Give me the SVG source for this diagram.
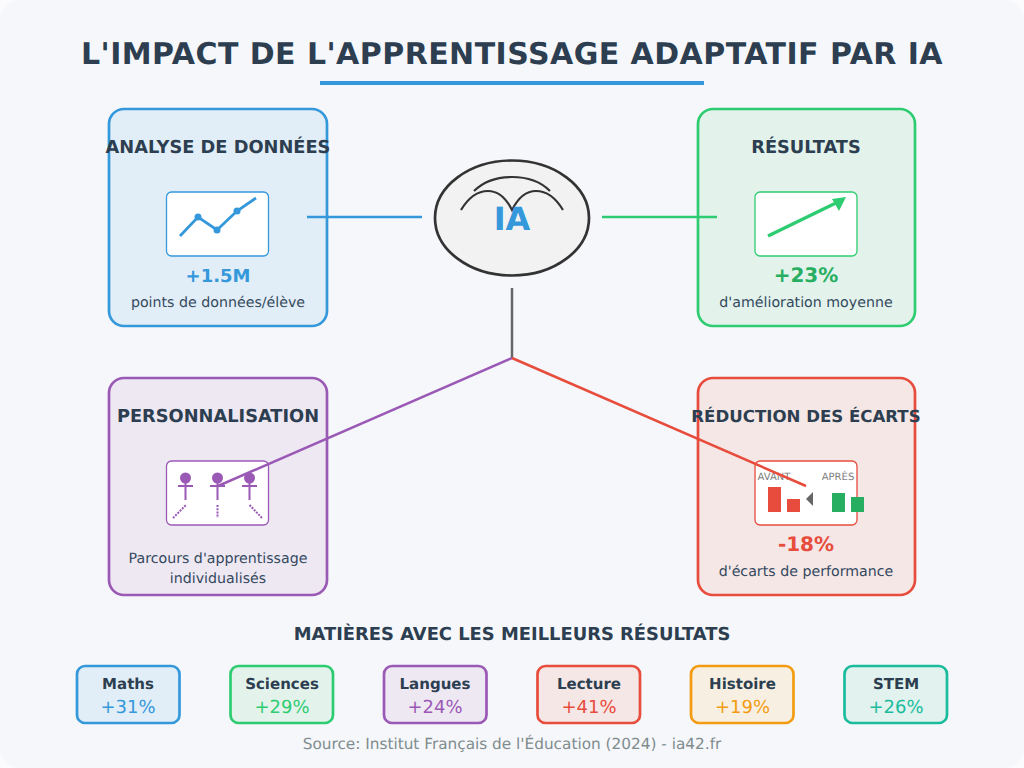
<svg xmlns="http://www.w3.org/2000/svg" width="1024" height="768" viewBox="0 0 1024 768">
<style>
text{font-family:"DejaVu Sans",sans-serif;text-anchor:middle;text-rendering:geometricPrecision}
.h{font-size:17.8px;font-weight:700;fill:#2c3e50}
.d{font-size:14.2px;fill:#34495e}
.v{font-size:20px;font-weight:700}
.card{stroke-width:2.7}
.ic{fill:#fff;stroke-width:1.3}
.sn{font-size:15px;font-weight:700;fill:#2c3e50}
.sv{font-size:18px}
.sb{stroke-width:2.7}
.lab{font-size:10px;fill:#7f7f7f}
.p{fill:none;stroke:#9b59b6;stroke-width:2}
.dot{fill:none;stroke:#9b59b6;stroke-width:2;stroke-dasharray:2 1.2}
</style>
<rect width="1024" height="768" fill="#fbfbfd"/>
<rect width="1024" height="768" rx="20" fill="#f5f7fb"/>
<g id="title">
<text x="512" y="64" style="font-size:30px;font-weight:700;fill:#2c3e50;letter-spacing:.45px">L'IMPACT DE L'APPRENTISSAGE ADAPTATIF PAR IA</text>
<rect x="320" y="81" width="384" height="4" fill="#3498db"/>
</g>
<g id="node-analyse">
<rect class="card" x="109" y="109" width="218" height="217" rx="15" fill="#e2eef7" stroke="#3498db"/>
<text class="h" x="218" y="153">ANALYSE DE DONNÉES</text>
<rect class="ic" x="166.500" y="192" width="102" height="64" rx="5" stroke="#3498db"/>
<polyline points="180,236 198,217 217,230 237,211 256,198" fill="none" stroke="#3498db" stroke-width="2.800"/>
<circle cx="198" cy="217" r="3.500" fill="#3498db"/><circle cx="217" cy="230" r="3.500" fill="#3498db"/><circle cx="237" cy="211" r="3.500" fill="#3498db"/>
<text class="v" x="218" y="282" fill="#3498db" style="font-size:18px">+1.5M</text>
<text class="d" x="218" y="307">points de données/élève</text>
</g>
<g id="node-resultats">
<rect class="card" x="698" y="109" width="217" height="217" rx="15" fill="#e3f3ec" stroke="#2ecc71"/>
<text class="h" x="806" y="153">RÉSULTATS</text>
<rect class="ic" x="755" y="192" width="102" height="64" rx="5" stroke="#2ecc71"/>
<line x1="768" y1="236" x2="840" y2="201" stroke="#2ecc71" stroke-width="3.500"/>
<polygon points="846,197 832,199 839,211" fill="#2ecc71"/>
<text class="v" x="806" y="282" fill="#27ae60">+23%</text>
<text class="d" x="806" y="307">d'amélioration moyenne</text>
</g>
<g id="node-personnalisation">
<rect class="card" x="109" y="378" width="218" height="217" rx="15" fill="#eee8f3" stroke="#9b59b6"/>
<text class="h" x="218" y="422">PERSONNALISATION</text>
<rect class="ic" x="166.500" y="461" width="102" height="64" rx="5" stroke="#9b59b6"/>
<circle cx="185.500" cy="478" r="5.500" fill="#9b59b6"/><path class="p" d="M185.500 483V500M178 486H193"/>
<circle cx="217.500" cy="478" r="5.500" fill="#9b59b6"/><path class="p" d="M217.500 483V500M210 486H225"/>
<circle cx="249.500" cy="478" r="5.500" fill="#9b59b6"/><path class="p" d="M249.500 483V500M242 486H257"/>
<path class="dot" d="M173 518L186 505M217.500 505V518M249.500 505L262 518"/>
<text class="d" x="218" y="563">Parcours d'apprentissage</text>
<text class="d" x="218" y="583">individualisés</text>
</g>
<g id="node-reduction">
<rect class="card" x="698" y="378" width="217" height="217" rx="15" fill="#f5e7e6" stroke="#e74c3c"/>
<text class="h" x="806" y="422" style="font-size:16.6px">RÉDUCTION DES ÉCARTS</text>
<rect class="ic" x="755" y="461" width="102" height="64" rx="5" stroke="#e74c3c"/>
<text class="lab" x="774" y="480">AVANT</text>
<text class="lab" x="838" y="480">APRÈS</text>
<rect x="768" y="487" width="13" height="25" fill="#e74c3c"/>
<rect x="787" y="499" width="13" height="13" fill="#e74c3c"/>
<polygon points="806,499 813,492 813,506" fill="#666"/>
<rect x="832" y="493" width="13" height="19" fill="#27ae60"/>
<rect x="851" y="497" width="13" height="15" fill="#27ae60"/>
<text class="v" x="806" y="551" fill="#e74c3c">-18%</text>
<text class="d" x="806" y="576">d'écarts de performance</text>
</g>
<g id="node-ia">
<ellipse cx="512" cy="218" rx="77" ry="57.500" fill="#f2f2f2" stroke="#333" stroke-width="2.700"/>
<path d="M461 210C470 195 480 191 488 191C498 191 506 198 512 210C518 198 526 191 536 191C544 191 554 195 563 210M474 191C484 181 498 177 512 177C526 177 540 181 550 191" fill="none" stroke="#333" stroke-width="2.200"/>
<text x="512" y="230" fill="#3498db" style="font-size:32px;font-weight:700">IA</text>
</g>
<g id="connectors" fill="none" stroke-width="2.500">
<line x1="307" y1="217" x2="422" y2="217" stroke="#3498db"/>
<line x1="602" y1="217" x2="717" y2="217" stroke="#2ecc71"/>
<line x1="512" y1="288" x2="512" y2="358" stroke="#666"/>
<line x1="512" y1="358" x2="218" y2="486" stroke="#9b59b6"/>
<line x1="512" y1="358" x2="806" y2="486" stroke="#e74c3c"/>
</g>
<g id="subjects-title"><text x="512" y="640" style="font-size:17.9px;font-weight:700;fill:#2c3e50">MATIÈRES AVEC LES MEILLEURS RÉSULTATS</text></g>
<g id="subject-maths"><rect class="sb" x="77" y="666" width="102.500" height="57" rx="8" fill="#e2eef7" stroke="#3498db"/><text class="sn" x="128" y="689">Maths</text><text class="sv" x="128" y="713" fill="#3498db">+31%</text></g>
<g id="subject-sciences"><rect class="sb" x="230.500" y="666" width="102.500" height="57" rx="8" fill="#e3f3ec" stroke="#2ecc71"/><text class="sn" x="282" y="689">Sciences</text><text class="sv" x="282" y="713" fill="#2ecc71">+29%</text></g>
<g id="subject-langues"><rect class="sb" x="384" y="666" width="102.500" height="57" rx="8" fill="#eee8f3" stroke="#9b59b6"/><text class="sn" x="435" y="689">Langues</text><text class="sv" x="435" y="713" fill="#9b59b6">+24%</text></g>
<g id="subject-lecture"><rect class="sb" x="537.500" y="666" width="102.500" height="57" rx="8" fill="#f5e7e6" stroke="#e74c3c"/><text class="sn" x="589" y="689">Lecture</text><text class="sv" x="589" y="713" fill="#e74c3c">+41%</text></g>
<g id="subject-histoire"><rect class="sb" x="691" y="666" width="102.500" height="57" rx="8" fill="#f7f0e2" stroke="#f39c12"/><text class="sn" x="742.500" y="689">Histoire</text><text class="sv" x="742.500" y="713" fill="#f39c12">+19%</text></g>
<g id="subject-stem"><rect class="sb" x="844.500" y="666" width="102.500" height="57" rx="8" fill="#e1f2ef" stroke="#1abc9c"/><text class="sn" x="896" y="689">STEM</text><text class="sv" x="896" y="713" fill="#1abc9c">+26%</text></g>
<g id="source"><text x="512" y="749" style="font-size:15.3px;fill:#7f8c8d">Source: Institut Français de l'Éducation (2024) - ia42.fr</text></g>
</svg>
